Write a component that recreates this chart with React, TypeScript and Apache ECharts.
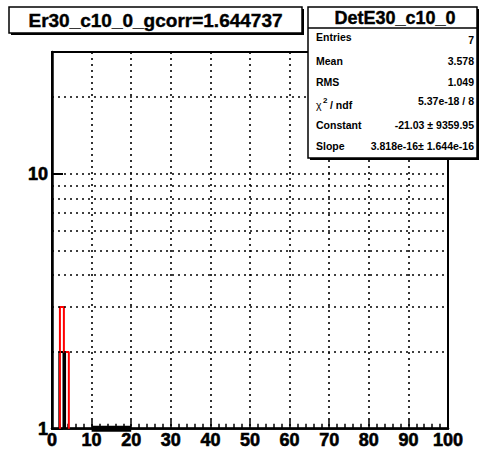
import React, { useEffect, useRef } from "react";
import * as echarts from "echarts";

// ---- data ----
const redEdges = [2.0, 3.0, 4.25];
const redCounts = [3, 2];
const blackEdges = [1.85, 2.9, 3.3];
const blackCounts = [2, 2];
const fitRange = [10, 20];
const xTicks = [0, 10, 20, 30, 40, 50, 60, 70, 80, 90, 100];
const yGridValues = [2, 3, 4, 5, 6, 7, 8, 9, 10, 20];
const yLabels = [1, 10];
const titleText = "Er30_c10_0_gcorr=1.644737";
const statsTitle = "DetE30_c10_0";
const statNames = ["Entries", "Mean", "RMS", "chi2", "Constant", "Slope"];
const statValues = ["7", "3.578", "1.049", "5.37e-18 / 8", "-21.03 \u00b1 9359.95", "3.818e-16\u00b1 1.644e-16"];

const Y_MIN = 1;
const Y_MAX = 30;
const FONT = "'Liberation Sans', Arial, Helvetica, sans-serif";

function stepOutline(edges: number[], counts: number[]): number[][] {
  const pts: number[][] = [[edges[0], Y_MIN]];
  for (let i = 0; i < counts.length; i++) {
    pts.push([edges[i], counts[i]]);
    pts.push([edges[i + 1], counts[i]]);
  }
  pts.push([edges[edges.length - 1], Y_MIN]);
  return pts;
}

function binOutlines(edges: number[], counts: number[]): number[][] {
  const pts: number[][] = [[edges[0], Y_MIN]];
  for (let i = 0; i < counts.length; i++) {
    pts.push([edges[i], counts[i]]);
    pts.push([edges[i + 1], counts[i]]);
    pts.push([edges[i + 1], Y_MIN]);
  }
  return pts;
}

export default function App() {
  const ref = useRef<HTMLDivElement>(null);
  useEffect(() => {
    if (!ref.current) return;
    const chart = echarts.init(ref.current, null, { renderer: "svg" });
    const dotted = { type: [2, 4] as number[], color: "#000", width: 1.6 };

    const sx = 308, sy = 7, sw = 169, sh = 151;
    const rowY = [37, 61, 82, 104, 125, 146];
    const statGraphics: any[] = [];
    statNames.forEach((n, i) => {
      if (n === "chi2") {
        statGraphics.push({
          type: "text", z: 102, x: 316, y: rowY[i] + 1,
          style: { text: "\u03c7", font: `10.5px ${FONT}`, fill: "#000", verticalAlign: "middle" },
        });
        statGraphics.push({
          type: "text", z: 102, x: 323, y: rowY[i] - 4,
          style: { text: "2", font: `bold 8px ${FONT}`, fill: "#000", verticalAlign: "middle" },
        });
        statGraphics.push({
          type: "text", z: 102, x: 330, y: rowY[i] + 1,
          style: { text: "/ ndf", font: `bold 10.5px ${FONT}`, fill: "#000", verticalAlign: "middle" },
        });
      } else {
        statGraphics.push({
          type: "text", z: 102, x: 316, y: rowY[i],
          style: { text: n, font: `bold 10.5px ${FONT}`, fill: "#000", verticalAlign: "middle" },
        });
      }
      statGraphics.push({
        type: "text", z: 102, x: 474, y: rowY[i] + (i === 0 ? 3 : i === 3 ? -3 : 0),
        style: { text: statValues[i], font: `bold 10.5px ${FONT}`, fill: "#000", align: "right", verticalAlign: "middle" },
      });
    });

    const labelBase = {
      color: "#000", fontFamily: FONT, fontWeight: "bold" as const, fontSize: 18,
      textBorderColor: "#000", textBorderWidth: 0.6,
    };

    chart.setOption({
      animation: false,
      grid: {
        left: 52, top: 52, width: 396, height: 378,
        show: true, borderColor: "#000", borderWidth: 2, backgroundColor: "transparent",
      },
      xAxis: {
        type: "value", min: 0, max: 100, interval: 10,
        axisLine: { show: true, onZero: false, lineStyle: { color: "#000", width: 2.5 } },
        axisTick: { show: true, inside: true, length: 9, lineStyle: { color: "#000", width: 1.5 } },
        minorTick: { show: true, splitNumber: 5, length: 5, lineStyle: { color: "#000", width: 1.5 } },
        splitLine: { show: true, lineStyle: dotted },
        axisLabel: {
          ...labelBase, margin: 2,
          formatter: (v: number) => (xTicks.includes(Math.round(v)) ? String(Math.round(v)) : ""),
        },
      },
      yAxis: {
        type: "log", logBase: 10, min: Y_MIN, max: Y_MAX,
        axisLine: { show: true, lineStyle: { color: "#000", width: 2.5 } },
        axisTick: { show: true, inside: true, length: 11, lineStyle: { color: "#000", width: 2 } },
        splitLine: { show: false },
        axisLabel: {
          ...labelBase, margin: 4,
          showMaxLabel: false,
          formatter: (v: number) => {
            const m = yLabels.find((l) => Math.abs(v - l) < 1e-6 * l);
            return m !== undefined ? String(m) : "";
          },
        },
      },
      series: [
        {
          type: "line", data: [], z: 1, silent: true,
          markLine: {
            silent: true, symbol: ["none", "none"], label: { show: false },
            lineStyle: dotted, animation: false,
            data: yGridValues.map((v) => ({ yAxis: v })),
          },
        },
        {
          type: "line", data: binOutlines(blackEdges, blackCounts), z: 3,
          symbol: "none", clip: true, lineStyle: { color: "#000", width: 2 },
        },
        {
          type: "line", data: stepOutline(redEdges, redCounts), z: 4,
          symbol: "none", clip: true, lineStyle: { color: "#ff0000", width: 2 },
        },
        {
          type: "line", data: fitRange.map((x) => [x, Y_MIN]), z: 5, zlevel: 0,
          symbol: "none", clip: false, lineStyle: { color: "#000", width: 6 },
        },
      ],
      graphic: [
        // title box
        { type: "rect", z: 99, shape: { x: 11, y: 9, width: 293, height: 26 }, style: { fill: "#000" } },
        { type: "rect", z: 100, shape: { x: 9, y: 7, width: 293, height: 26 }, style: { fill: "#fff", stroke: "#000", lineWidth: 1.5 } },
        {
          type: "text", z: 101, x: 155.5, y: 20.5,
          style: { text: titleText, font: `bold 19px ${FONT}`, fill: "#000", align: "center", verticalAlign: "middle", stroke: "#000", lineWidth: 0.4 },
        },
        // stats box
        { type: "rect", z: 99, shape: { x: sx + 2, y: sy + 2, width: sw, height: sh }, style: { fill: "#000" } },
        { type: "rect", z: 100, shape: { x: sx, y: sy, width: sw, height: sh }, style: { fill: "#fff", stroke: "#000", lineWidth: 1.5 } },
        { type: "line", z: 101, shape: { x1: sx, y1: 28, x2: sx + sw, y2: 28 }, style: { stroke: "#000", lineWidth: 1.5 } },
        {
          type: "text", z: 101, x: 395, y: 17.5,
          style: { text: statsTitle, font: `bold 18px ${FONT}`, fill: "#000", align: "center", verticalAlign: "middle", stroke: "#000", lineWidth: 0.4 },
        },
        ...statGraphics,
      ],
    });
    return () => chart.dispose();
  }, []);
  return (
    <div
      ref={ref}
      style={{ position: "fixed", left: 0, top: 0, width: 484, height: 449, background: "#fff" }}
    />
  );
}
